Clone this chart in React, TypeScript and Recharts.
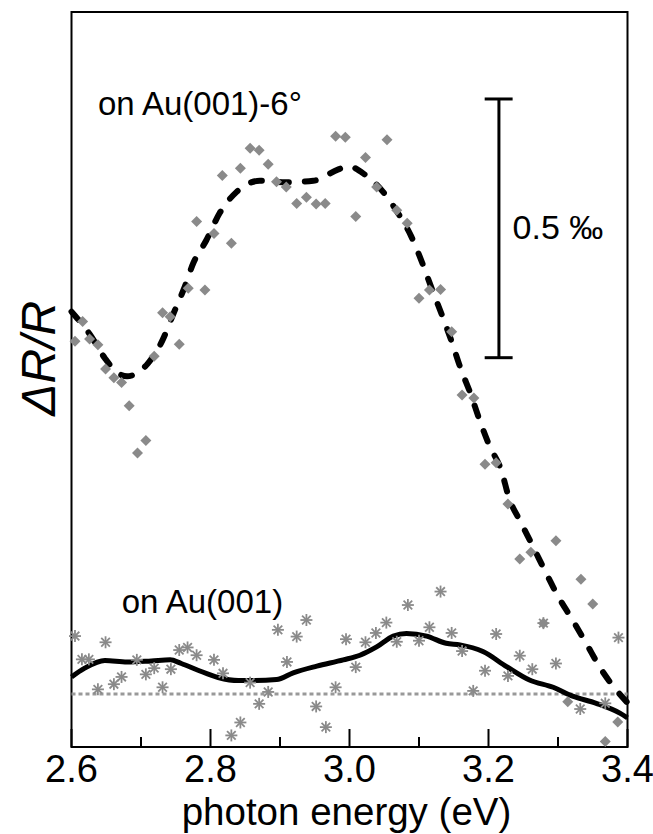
import React from 'react';
import { ComposedChart, XAxis, YAxis, Line, Scatter, ReferenceArea, ReferenceLine, ReferenceDot } from 'recharts';

// ---- data (photon energy in eV, ΔR/R in ‰) ----
const diamondE = [2.605,2.616,2.626,2.638,2.649,2.661,2.672,2.683,2.695,2.707,2.719,2.731,2.742,2.755,2.768,2.780,2.792,2.805,2.817,2.830,2.843,2.857,2.870,2.883,2.895,2.909,2.924,2.938,2.952,2.965,2.980,2.994,3.009,3.023,3.039,3.054,3.068,3.083,3.100,3.115,3.131,3.147,3.162,3.179,3.195,3.211,3.228,3.245,3.261,3.279,3.297,3.314,3.333,3.350,3.368,3.386];
const diamondV = [0.682,0.720,0.686,0.675,0.628,0.611,0.602,0.557,0.466,0.490,0.653,0.737,0.729,0.676,0.784,0.913,0.781,0.890,1.002,0.871,1.016,1.055,1.051,1.024,0.990,0.980,0.948,0.960,0.947,0.948,1.078,1.076,0.923,1.037,0.980,1.071,0.935,0.910,0.765,0.781,0.782,0.700,0.578,0.572,0.444,0.447,0.367,0.261,0.274,0.137,0.296,-0.015,0.222,0.174,-0.092,-0.054];

const starE = [2.605,2.615,2.625,2.638,2.649,2.661,2.672,2.694,2.707,2.719,2.731,2.743,2.755,2.767,2.780,2.805,2.818,2.830,2.843,2.857,2.870,2.883,2.897,2.910,2.924,2.938,2.952,2.966,2.980,2.995,3.009,3.023,3.038,3.053,3.068,3.084,3.100,3.115,3.131,3.147,3.162,3.178,3.195,3.211,3.228,3.245,3.263,3.279,3.297,3.332,3.368,3.387];
const starV = [0.112,0.067,0.067,0.009,0.100,0.019,0.033,0.066,0.038,0.050,0.013,0.048,0.085,0.090,0.075,0.066,0.040,-0.080,-0.055,0.022,-0.019,0.004,0.124,0.062,0.111,0.143,-0.024,-0.064,0.013,0.106,0.052,0.100,0.118,0.138,0.101,0.172,0.103,0.129,0.198,0.118,0.083,0.006,0.045,0.116,0.035,0.074,0.048,0.137,0.059,-0.029,-0.018,0.109];

const fitStepE = [2.600,2.627,2.648,2.665,2.680,2.694,2.710,2.731,2.746,2.762,2.775,2.794,2.813,2.838,2.857,2.871,2.909,2.948,2.984,2.998,3.022,3.048,3.070,3.089,3.105,3.119,3.134,3.147,3.160,3.174,3.187,3.201,3.219,3.229,3.246,3.264,3.282,3.300,3.321,3.341,3.361,3.383,3.400];
const fitStepV = [0.739,0.694,0.649,0.622,0.614,0.620,0.639,0.684,0.733,0.784,0.832,0.877,0.929,0.971,0.988,0.992,0.989,0.992,1.014,1.020,1.004,0.971,0.929,0.884,0.832,0.781,0.729,0.681,0.629,0.581,0.530,0.481,0.430,0.381,0.333,0.285,0.236,0.189,0.143,0.097,0.050,0.009,-0.017];

const fitFlatE = [2.600,2.619,2.648,2.680,2.715,2.742,2.758,2.782,2.811,2.840,2.864,2.895,2.919,2.953,2.991,3.015,3.039,3.063,3.082,3.111,3.139,3.159,3.192,3.226,3.259,3.293,3.321,3.355,3.389,3.400];
const fitFlatV = [0.033,0.050,0.065,0.062,0.064,0.066,0.059,0.046,0.032,0.026,0.026,0.028,0.041,0.054,0.066,0.075,0.091,0.112,0.117,0.112,0.098,0.095,0.082,0.053,0.027,0.013,-0.004,-0.018,-0.037,-0.046];

const xTicks = [2.6, 2.7, 2.8, 2.9, 3.0, 3.1, 3.2, 3.3, 3.4];
const xTickLabels = ['2.6', '2.8', '3.0', '3.2', '3.4'];
const xDomain = [2.6, 3.4];
const yDomain = [-0.1024, 1.3181];
const scaleBar = { x: 3.215, capLeft: 3.1945, capRight: 3.2347, low: 0.65, high: 1.15 };
const scaleBarLabel = '0.5 ‰';
const labelStep = 'on Au(001)-6°';
const labelFlat = 'on Au(001)';
const xTitle = 'photon energy (eV)';
const yTitle = 'ΔR/R';

const zip = (e: number[], v: number[]) => e.map((x, i) => ({ x, y: v[i] }));
const diamonds = zip(diamondE, diamondV);
const stars = zip(starE, starV);
const fitStep = zip(fitStepE, fitStepV);
const fitFlat = zip(fitFlatE, fitFlatV);

const FONT = '"Liberation Sans", Arial, Helvetica, sans-serif';
const GRAY = '#8a8a8a';

const Diamond = (p: any) => {
  const { cx, cy } = p;
  if (cx == null || cy == null) return null;
  const r = 5.5;
  return <polygon points={`${cx},${cy - r} ${cx + r},${cy} ${cx},${cy + r} ${cx - r},${cy}`} fill={GRAY} />;
};

const Star = (p: any) => {
  const { cx, cy } = p;
  if (cx == null || cy == null) return null;
  const r = 6;
  const d = r * 0.72;
  return (
    <g stroke={GRAY} strokeWidth={1.8}>
      <line x1={cx - r} y1={cy} x2={cx + r} y2={cy} />
      <line x1={cx} y1={cy - r} x2={cx} y2={cy + r} />
      <line x1={cx - d} y1={cy - d} x2={cx + d} y2={cy + d} />
      <line x1={cx - d} y1={cy + d} x2={cx + d} y2={cy - d} />
    </g>
  );
};

const XTick = (p: any) => {
  const { x, y, index } = p;
  const major = index % 2 === 0;
  return (
    <g>
      <line x1={x} y1={y} x2={x} y2={y - (major ? 18 : 10)} stroke="#000" strokeWidth={2} />
      {major && (
        <text x={x} y={y + 35} textAnchor="middle" fontSize={38} fontFamily={FONT} fill="#000">
          {xTickLabels[index / 2]}
        </text>
      )}
    </g>
  );
};

const XTitle = (p: any) => {
  const vb = p.viewBox || {};
  return (
    <text x={vb.x + vb.width / 2 - 3} y={vb.y + 78} textAnchor="middle" fontSize={38.5} fontFamily={FONT} fill="#000">
      {xTitle}
    </text>
  );
};

const textAt = (txt: string, dx: number, dy: number, size: number, opts: any = {}) => (p: any) => {
  const vb = p.viewBox || {};
  const x = vb.x + dx;
  const y = vb.y + dy;
  if (opts.rotate) {
    return (
      <text transform={`translate(${x},${y}) rotate(-90)`} textAnchor="middle" fontSize={size} fontStyle="italic" fontFamily={FONT} fill="#000">
        {txt}
      </text>
    );
  }
  return (
    <text x={x} y={y} fontSize={size} fontFamily={FONT} fill="#000">
      {txt}
    </text>
  );
};

export default function App() {
  return (
    <div style={{ position: 'absolute', left: 0, top: 0 }}>
      <ComposedChart width={653} height={834} margin={{ top: 12, right: 25.5, bottom: 0, left: 71.5 }}>
        <XAxis
          dataKey="x"
          type="number"
          domain={xDomain}
          ticks={xTicks}
          interval={0}
          axisLine={false}
          tickLine={false}
          tickSize={0}
          tickMargin={0}
          height={87}
          tick={<XTick />}
          label={<XTitle />}
        />
        <YAxis dataKey="y" type="number" domain={yDomain} hide width={0} />
        <ReferenceArea x1={xDomain[0]} x2={xDomain[1]} y1={yDomain[0]} y2={yDomain[1]} fill="none" fillOpacity={0} stroke="#000" strokeWidth={2} />
        <ReferenceLine y={0} stroke="#999" strokeWidth={3} strokeDasharray="4 3" />
        <Scatter data={diamonds} dataKey="y" shape={<Diamond />} isAnimationActive={false} />
        <Scatter data={stars} dataKey="y" shape={<Star />} isAnimationActive={false} />
        <Line data={fitStep} dataKey="y" type="monotone" stroke="#000" strokeWidth={6} strokeDasharray="11 16" strokeLinecap="round" dot={false} activeDot={false} isAnimationActive={false} />
        <Line data={fitFlat} dataKey="y" type="monotone" stroke="#000" strokeWidth={5} dot={false} activeDot={false} isAnimationActive={false} />
        <ReferenceLine segment={[{ x: scaleBar.x, y: scaleBar.low }, { x: scaleBar.x, y: scaleBar.high }]} stroke="#000" strokeWidth={3} />
        <ReferenceLine segment={[{ x: scaleBar.capLeft, y: scaleBar.high }, { x: scaleBar.capRight, y: scaleBar.high }]} stroke="#000" strokeWidth={3} />
        <ReferenceLine segment={[{ x: scaleBar.capLeft, y: scaleBar.low }, { x: scaleBar.capRight, y: scaleBar.low }]} stroke="#000" strokeWidth={3} />
        <ReferenceDot x={3.2347} y={0.879} r={0} fill="none" stroke="none" label={textAt(scaleBarLabel, 0, 0, 34)} />
        <ReferenceDot x={2.638} y={1.119} r={0} fill="none" stroke="none" label={textAt(labelStep, 0, 0, 33)} />
        <ReferenceDot x={2.6722} y={0.157} r={0} fill="none" stroke="none" label={textAt(labelFlat, 0, 0, 33)} />
        <ReferenceDot x={2.6} y={0.649} r={0} fill="none" stroke="none" label={textAt(yTitle, -17, 0, 48, { rotate: true })} />
      </ComposedChart>
    </div>
  );
}
